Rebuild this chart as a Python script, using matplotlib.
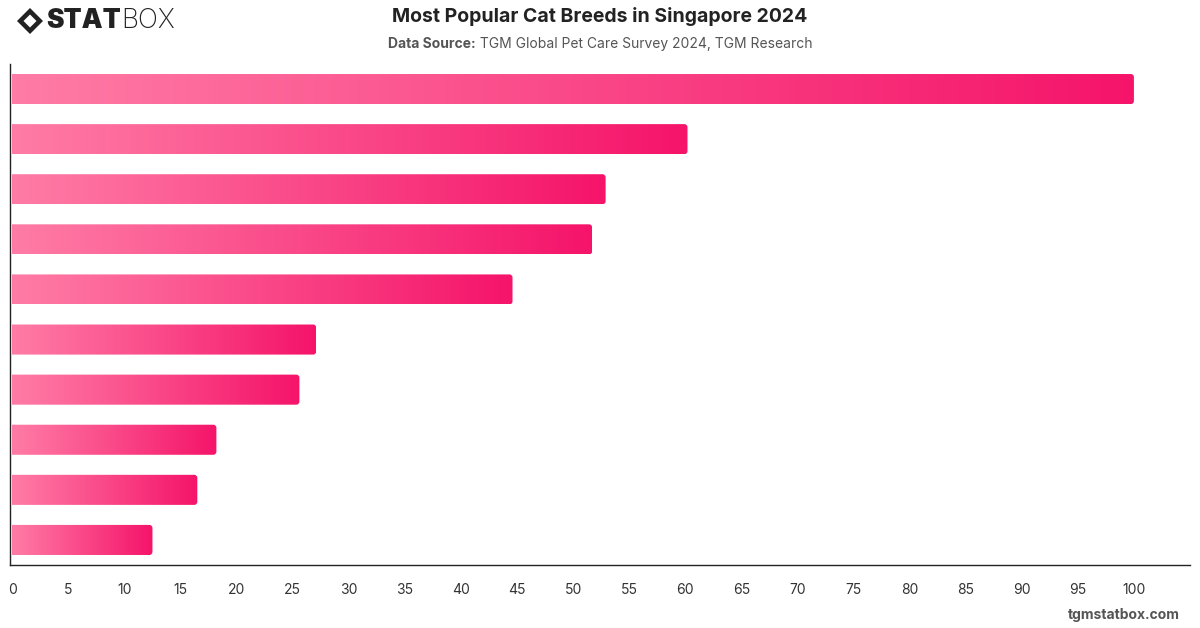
import matplotlib.pyplot as plt
import numpy as np
from matplotlib.colors import LinearSegmentedColormap
from matplotlib.patches import FancyBboxPatch, Polygon

# breeds are not labelled in the chart, ordered top to bottom
values = [100, 60.2, 52.9, 51.7, 44.6, 27.1, 25.6, 18.2, 16.5, 12.5]
x_ticks = list(range(0, 101, 5))

plt.rcParams['font.family'] = ['Inter', 'DejaVu Sans']

fig = plt.figure(figsize=(12, 6.28), dpi=100)
ax = fig.add_axes([10 / 1200, 63 / 628, 1180 / 1200, 501 / 628])

cmap = LinearSegmentedColormap.from_list('pink', ['#ff7ca6', '#f5146a'])
grad = np.linspace(0, 1, 256).reshape(1, -1)

n = len(values)
bar_h = 0.6
for i, v in enumerate(values):
    y = n - 1 - i
    # clip shape starts left of zero so only the right corners look rounded
    patch = FancyBboxPatch((-2, y - bar_h / 2), v + 2, bar_h,
                           boxstyle='round,pad=0,rounding_size=0.28',
                           mutation_aspect=0.22, linewidth=0,
                           facecolor='none')
    ax.add_patch(patch)
    im = ax.imshow(grad, cmap=cmap, aspect='auto',
                   extent=(0, v, y - bar_h / 2, y + bar_h / 2), zorder=2)
    im.set_clip_path(patch)

ax.set_xlim(-0.2, 105)
ax.set_ylim(-0.5, n - 0.5)
ax.set_xticks(x_ticks)
ax.set_xticklabels([str(t) for t in x_ticks])
ax.set_yticks([])
ax.tick_params(axis='x', length=0, pad=13, labelsize=10, labelcolor='#333333')
for s in ['top', 'right']:
    ax.spines[s].set_visible(False)
for s in ['left', 'bottom']:
    ax.spines[s].set_color('#222222')
    ax.spines[s].set_linewidth(1)

fig.text(0.5, 1 - 17 / 628, 'Most Popular Cat Breeds in Singapore 2024',
         ha='center', va='center', fontsize=14, fontweight='bold', color='#222222')
t1 = fig.text(0.4, 1 - 44 / 628, 'Data Source:', ha='left', va='center',
              fontsize=10, fontweight='bold', color='#555555')
t2 = fig.text(0.4, 1 - 44 / 628, ' TGM Global Pet Care Survey 2024, TGM Research',
              ha='left', va='center', fontsize=10, color='#555555')
fig.canvas.draw()
r = fig.canvas.get_renderer()
w1 = t1.get_window_extent(r).width
w2 = t2.get_window_extent(r).width
x0 = (1200 - (w1 + w2)) / 2
t1.set_x(x0 / 1200)
t2.set_x((x0 + w1) / 1200)

# logo
cx, cy = 30 / 1200, 1 - 21 / 628
dx, dy = 13 / 1200, 13 / 628
fig.patches.append(Polygon([[cx - dx, cy], [cx, cy + dy], [cx + dx, cy], [cx, cy - dy]],
                           closed=True, transform=fig.transFigure,
                           facecolor='#222222', edgecolor='none'))
fig.patches.append(Polygon([[cx - dx * 0.5, cy], [cx, cy + dy * 0.5],
                            [cx + dx * 0.5, cy], [cx, cy - dy * 0.5]],
                           closed=True, transform=fig.transFigure,
                           facecolor='white', edgecolor='none'))
ts = fig.text(46 / 1200, 1 - 21 / 628, 'STAT', ha='left', va='center',
              fontsize=19, fontweight='black', color='#222222')
fig.canvas.draw()
ws = ts.get_window_extent(r).width
fig.text((46 + ws) / 1200, 1 - 21 / 628, 'BOX', ha='left', va='center',
         fontsize=19, fontweight='light', color='#222222')

fig.text(1180 / 1200, 1 - 615 / 628, 'tgmstatbox.com', ha='right', va='center',
         fontsize=10, fontweight='bold', color='#555555')

fig.savefig('out.png', dpi=100)
